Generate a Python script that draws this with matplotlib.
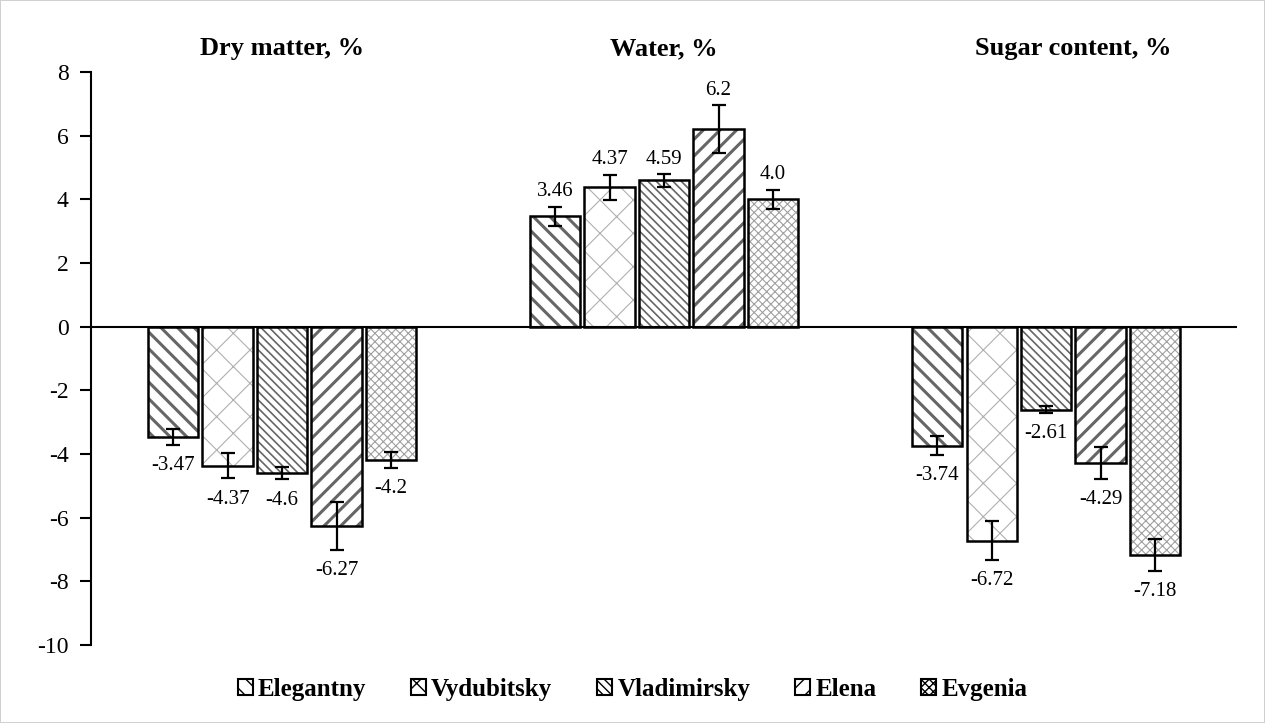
import numpy as np
import matplotlib.pyplot as plt
from matplotlib.patches import Patch

plt.rcParams['font.family'] = ['Liberation Serif', 'DejaVu Serif']
plt.rcParams['axes.unicode_minus'] = False

# data
groups = ['Dry matter, %', 'Water, %', 'Sugar content, %']
varieties = ['Elegantny', 'Vydubitsky', 'Vladimirsky', 'Elena', 'Evgenia']
dry = [-3.47, -4.37, -4.6, -6.27, -4.2]
water = [3.46, 4.37, 4.59, 6.2, 4.0]
sugar = [-3.74, -6.72, -2.61, -4.29, -7.18]
dry_err = [0.25, 0.4, 0.2, 0.75, 0.25]
water_err = [0.3, 0.4, 0.2, 0.75, 0.3]
sugar_err = [0.3, 0.6, 0.1, 0.5, 0.5]
labels = [['-3.47', '-4.37', '-4.6', '-6.27', '-4.2'],
          ['3.46', '4.37', '4.59', '6.2', '4.0'],
          ['-3.74', '-6.72', '-2.61', '-4.29', '-7.18']]

values = np.array([dry, water, sugar])
errors = np.array([dry_err, water_err, sugar_err])

# styles per variety: hatch, hatch colour, hatch linewidth
hatches = ['\\\\', 'x', '\\\\\\\\', '//', 'xxxx']
hcolors = ['#666666', '#b0b0b0', '#666666', '#666666', '#a0a0a0']
hlw = [2.2, 0.8, 1.2, 2.2, 0.8]

fig = plt.figure(figsize=(12.65, 7.23), dpi=100, edgecolor='#d0d0d0', linewidth=1.2)
ax = fig.add_axes([0.072, 0.108, 0.906, 0.7925])

x = np.arange(3)
w = 0.132
step = 0.1425
for k in range(5):
    xs = x + (k - 2) * step
    with plt.rc_context({'hatch.linewidth': hlw[k]}):
        ax.bar(xs, values[:, k], w, color='white', edgecolor=hcolors[k],
               hatch=hatches[k], linewidth=0, zorder=2)
    ax.bar(xs, values[:, k], w, fill=False, edgecolor='black', linewidth=1.8, zorder=3)
    ax.errorbar(xs, values[:, k], yerr=errors[:, k], fmt='none', ecolor='black',
                elinewidth=1.6, capsize=5, capthick=1.6, zorder=4)
    for g in range(3):
        v = values[g, k]
        e = errors[g, k]
        if v < 0:
            ax.annotate(labels[g][k], (xs[g], v - e), xytext=(0, -8),
                        textcoords='offset points', ha='center', va='top', fontsize=15)
        else:
            ax.annotate(labels[g][k], (xs[g], v + e), xytext=(0, 4),
                        textcoords='offset points', ha='center', va='bottom', fontsize=15)

ax.axhline(0, color='black', linewidth=1.5, zorder=5)
ax.set_xlim(-0.5, 2.5)
ax.set_ylim(-10, 8)
ax.set_yticks(np.arange(-10, 9, 2))
ax.tick_params(axis='y', labelsize=17, length=8, width=1.5, direction='out', pad=8)
ax.set_xticks([])
for s in ['top', 'right', 'bottom']:
    ax.spines[s].set_visible(False)
ax.spines['left'].set_linewidth(1.5)

title_x = [0.0, 0.0, 0.07]
for g in range(3):
    ax.text(x[g] + title_x[g], 1.02, groups[g], transform=ax.get_xaxis_transform(),
            ha='center', va='bottom', fontsize=19, fontweight='bold')

handles = [Patch(facecolor='white', edgecolor='black', hatch=hatches[k], linewidth=1.5)
           for k in range(5)]
fig.legend(handles, varieties, loc='center', bbox_to_anchor=(0.5, 0.046), ncol=5,
           frameon=False, handlelength=0.6, handleheight=0.6, handletextpad=0.2,
           columnspacing=1.8, prop={'weight': 'bold', 'size': 18})

fig.savefig('out.png', dpi=100)
